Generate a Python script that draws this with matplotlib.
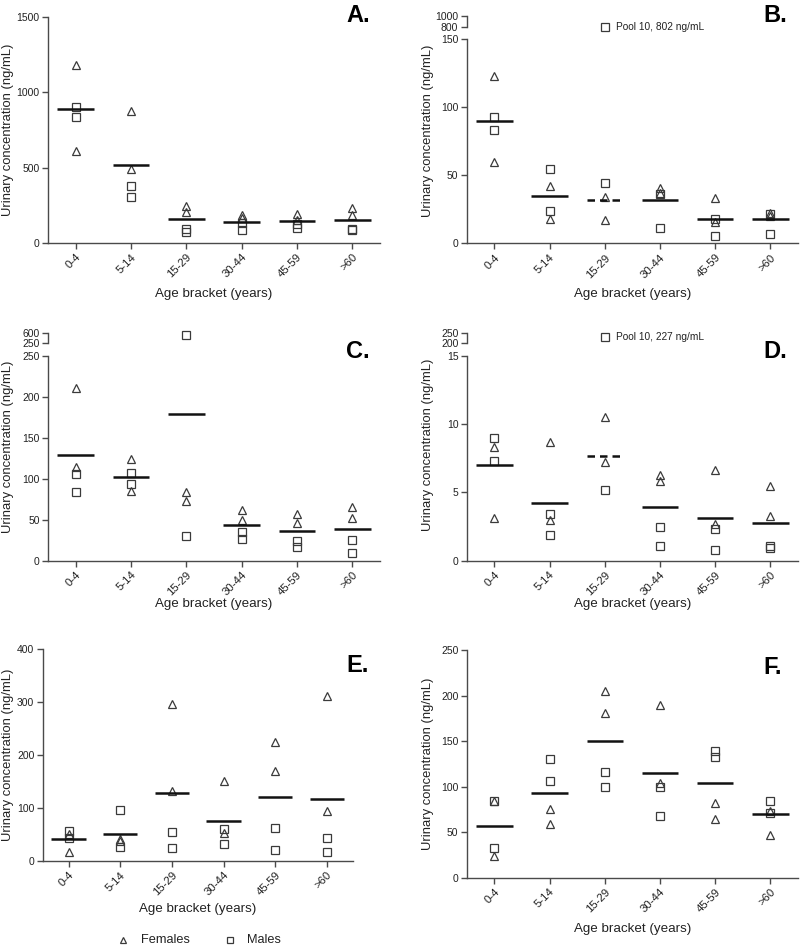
import numpy as np
import matplotlib
matplotlib.use('Agg')
import matplotlib.pyplot as plt
from matplotlib.lines import Line2D

plt.rcParams['font.family'] = ['Liberation Sans', 'DejaVu Sans']

categories = ['0-4', '5-14', '15-29', '30-44', '45-59', '>60']

# two pools of each sex per age bracket, plus median
A_females = [[1180, 613], [878, 490], [247, 207], [188, 165], [194, 155], [234, 188]]
A_males = [[900, 838], [375, 304], [93, 71], [130, 85], [128, 99], [92, 88]]
A_median = [885, 514, 157, 141, 146, 152]

B_females = [[123, 60], [42, 18], [34, 17], [41, 37], [33, 16], [22, 20]]
B_males = [[93, 83.5], [54.5, 24], [44, 802], [36, 11.5], [17.5, 5.7], [21.5, 6.6]]
B_median = [90, 35, 31.7, 31.7, 18, 18]

C_females = [[211, 114], [124, 85], [84, 73], [62, 50], [57, 46], [65, 52]]
C_males = [[106, 84], [107, 93], [530, 30], [35, 26], [24, 17], [25, 10]]
C_median = [129, 102.5, 179, 43.5, 36.5, 38.5]

D_females = [[8.35, 3.15], [8.65, 2.95], [10.55, 7.2], [6.3, 5.85], [6.65, 2.7], [5.45, 3.25]]
D_males = [[9.0, 7.3], [3.4, 1.9], [5.2, 227], [2.5, 1.1], [2.3, 0.8], [1.05, 0.95]]
D_median = [7.0, 4.25, 7.68, 3.95, 3.1, 2.73]

E_females = [[51, 17], [42, 38], [295, 132], [151, 53], [225, 170], [311, 94]]
E_males = [[56, 44], [96, 26], [54, 25], [61, 32], [63, 21], [44, 17]]
E_median = [41.5, 51.5, 127.5, 75, 120.5, 117]

F_females = [[84, 23.5], [75, 59.5], [205, 181], [189.5, 104], [82, 64], [73.5, 47]]
F_males = [[84.5, 32.5], [131, 106], [116, 100], [100, 67.5], [139, 132.5], [84.5, 71.5]]
F_median = [56.5, 93, 150.5, 115, 104.5, 69.5]

pool_notes = {'B': 'Pool 10, 802 ng/mL', 'D': 'Pool 10, 227 ng/mL'}

W, H = 800, 946
SPINE = '#4a4a4a'
EDGE = '#3a3a3a'
TXT = '#222222'


def frac(left, top, right, bottom):
    return [left / W, 1 - bottom / H, (right - left) / W, (bottom - top) / H]


def ticks_style(ax):
    ax.tick_params(direction='out', length=4, width=1.0, color=SPINE,
                   labelsize=7.5, labelcolor=TXT, pad=2)
    ax.tick_params(axis='x', labelsize=8.2, length=4.5)


def draw_panel(rect, females, males, medians, ylim, yticks, letter, labels_px,
               dashed=(), top=None):
    left, top_px, right, bottom = rect
    ax = fig.add_axes(frac(*rect))
    for s in ['top', 'right']:
        ax.spines[s].set_visible(False)
    for s in ['left', 'bottom']:
        ax.spines[s].set_color(SPINE)
        ax.spines[s].set_linewidth(1.0)
    ticks_style(ax)
    x = np.arange(len(categories))
    hi = ylim[1]
    tax = None
    if top is not None:
        trect, tlim = top
        tax = fig.add_axes(frac(*trect))
        tax.set_xlim(-0.5, len(categories) - 0.5)
        tax.set_ylim(*tlim)
        tax.patch.set_alpha(0)
        for s in ['top', 'right', 'bottom']:
            tax.spines[s].set_visible(False)
        tax.spines['left'].set_color(SPINE)
        tax.spines['left'].set_linewidth(1.0)
        tax.set_xticks([])
        tax.set_yticks(list(tlim))
        ticks_style(tax)
    for i in range(len(categories)):
        for v in females[i]:
            target = tax if (tax is not None and v > hi) else ax
            target.plot(x[i], v, marker='^', ms=6.2, mfc='none', mec=EDGE,
                        mew=0.9, ls='none', clip_on=False, zorder=3)
        for v in males[i]:
            target = tax if (tax is not None and v > hi) else ax
            target.plot(x[i], v, marker='s', ms=5.6, mfc='none', mec=EDGE,
                        mew=0.9, ls='none', clip_on=False, zorder=3)
        ls = (0, (3, 2)) if i in dashed else '-'
        ax.hlines(medians[i], x[i] - 0.33, x[i] + 0.33, color='#111111',
                  lw=1.8, linestyles=ls, zorder=4)
    ax.set_xlim(-0.5, len(categories) - 0.5)
    ax.set_ylim(*ylim)
    ax.set_yticks(yticks)
    ax.set_xticks(x)
    ax.set_xticklabels(categories, rotation=45, ha='right',
                       rotation_mode='anchor')
    ax.set_ylabel('Urinary concentration (ng/mL)', fontsize=9.4, color=TXT)
    ax.set_xlabel('Age bracket (years)', fontsize=9.6, color=TXT)
    # label positions given in figure pixels (ylabel: right edge, xlabel: top)
    (ylx, yly), xly, (lx, ly) = labels_px
    w, h = right - left, bottom - top_px
    ax.yaxis.set_label_coords((ylx - left) / w, (bottom - yly) / h)
    ax.xaxis.set_label_coords(0.5, (bottom - xly) / h)
    fig.text(lx / W, 1 - ly / H, letter + '.', fontsize=17, fontweight='bold',
             ha='center', va='center')
    return ax, tax


fig = plt.figure(figsize=(8, 9.46), dpi=100)

axA, _ = draw_panel((48, 16.7, 380, 243), A_females, A_males, A_median,
                    (0, 1500), [0, 500, 1000, 1500], 'A',
                    ((14.5, 130), 288, (358, 15)))

axB, taxB = draw_panel((466.7, 39.3, 798, 243.3), B_females, B_males, B_median,
                       (0, 150), [0, 50, 100, 150], 'B',
                       ((434, 131), 288, (775, 15)), dashed=(2,),
                       top=((466.7, 15.7, 798, 27.3), (800, 1000)))

axC, taxC = draw_panel((48, 355.7, 380, 560.7), C_females, C_males, C_median,
                       (0, 250), [0, 50, 100, 150, 200, 250], 'C',
                       ((14.5, 447), 598, (358, 352)),
                       top=((48, 332.7, 380, 343.3), (250, 600)))

axD, taxD = draw_panel((466.7, 355.7, 798, 560.7), D_females, D_males, D_median,
                       (0, 15), [0, 5, 10, 15], 'D',
                       ((434, 445), 598, (775, 352)), dashed=(2,),
                       top=((466.7, 332.7, 798, 342.7), (200, 250)))

axE, _ = draw_panel((42.7, 648.7, 352.7, 861), E_females, E_males, E_median,
                    (0, 400), [0, 100, 200, 300, 400], 'E',
                    ((14.5, 755), 903, (358, 666)))

axF, _ = draw_panel((466.7, 650.3, 798, 877.7), F_females, F_males, F_median,
                    (0, 250), [0, 50, 100, 150, 200, 250], 'F',
                    ((434, 764), 923, (773, 667)))

# notes for the pool above the axis break
for tax, key in [(taxB, 'B'), (taxD, 'D')]:
    tax.annotate(pool_notes[key], xy=(2, tax.get_ylim()[0]), xycoords='data',
                 xytext=(8, 0), textcoords='offset points', fontsize=7.3,
                 va='center', ha='left', color=TXT)
taxD.texts[-1].xy = (2, 227)

# legend below panel E
legend_items = [('^', 'Females', 122.7), ('s', 'Males', 229.5)]
for mk, name, px in legend_items:
    fig.add_artist(Line2D([px / W], [1 - 940 / H], transform=fig.transFigure,
                          marker=mk, ms=5 if mk == '^' else 4.6, mfc='none',
                          mec=EDGE, mew=0.9, ls='none'))
    fig.text((px + 18) / W, 1 - 940 / H, name, fontsize=9.2, color=TXT,
             ha='left', va='center')

fig.savefig('out.png', dpi=100, facecolor='white')
